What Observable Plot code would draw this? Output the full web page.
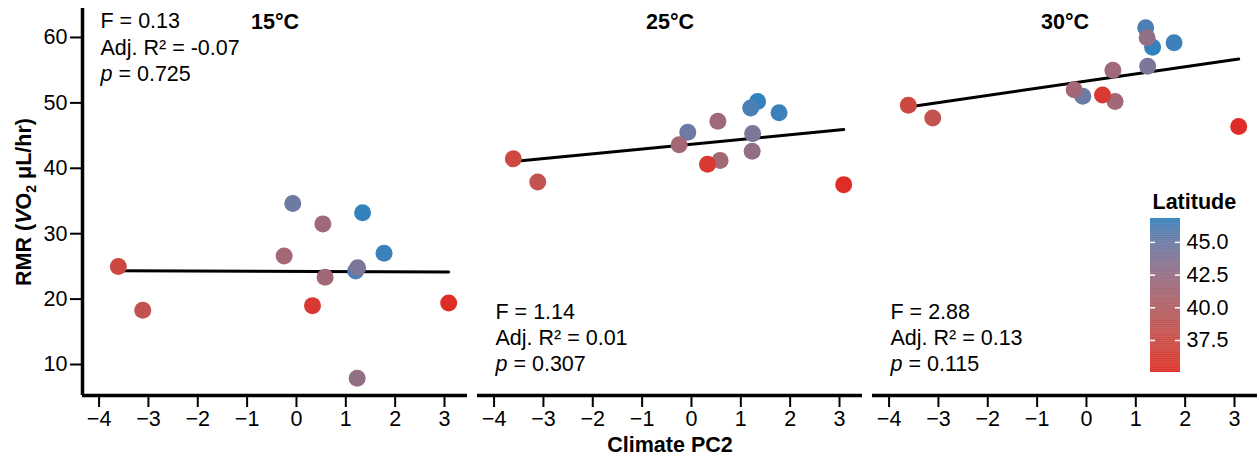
<!DOCTYPE html>
<html>
<head>
<meta charset="utf-8">
<script src="https://cdn.jsdelivr.net/npm/d3@7"></script>
<script src="https://cdn.jsdelivr.net/npm/@observablehq/plot@0.6"></script>
<style>
  html, body { margin: 0; padding: 0; background: #fff; }
  #wrap { position: relative; width: 1257px; height: 457px; }
  #legend { position: absolute; left: 1100px; top: 190px; width: 157px; height: 190px; }
  #legend svg { max-width: none !important; }
</style>
</head>
<body>
<div id="wrap"><div id="main"></div><div id="legend"></div></div>
<script>
// ---- data ----
const panels = ["15°C", "25°C", "30°C"];
const pc2      = [-3.61, -3.115, -0.075, -0.25, 0.535, 0.58, 0.325, 1.34, 1.775, 1.20, 1.24, 1.23, 3.085];
const latitude = [37.2, 38.3, 44.9, 41.3, 41.6, 41.4, 35.8, 46.83, 46.6, 46.2, 44.0, 42.6, 35.05];
const rmr15 = [25.0, 18.3, 34.6, 26.6, 31.5, 23.35, 19.0, 33.2, 27.0, 24.3, 24.8, 7.9, 19.4];
const rmr25 = [41.45, 37.9, 45.5, 43.6, 47.2, 41.2, 40.6, 50.2, 48.5, 49.2, 45.3, 42.6, 37.5];
const rmr30 = [49.65, 47.7, 51.0, 52.0, 55.0, 50.2, 51.2, 58.5, 59.2, 61.5, 55.6, 59.95, 46.4];
const fStat = ["0.13", "1.14", "2.88"];
const adjR2 = ["-0.07", "0.01", "0.13"];
const pValue = ["0.725", "0.307", "0.115"];
const xTicks = [-4, -3, -2, -1, 0, 1, 2, 3];
const yTicks = [10, 20, 30, 40, 50, 60];
const legendTicks = [37.5, 40, 42.5, 45];
const xDomain = [-4.336, 3.466];
const yDomain = [5.26, 64.43];

// ---- tables ----
const rmrByPanel = [rmr15, rmr25, rmr30];
const points = panels.flatMap((t, j) => pc2.map((x, i) => ({temp: t, pc2: x, rmr: rmrByPanel[j][i], lat: latitude[i]})));
const stats = panels.map((t, j) => ({temp: t, F: fStat[j], r2: adjR2[j], p: pValue[j]}));
const latDomain = d3.extent(latitude);
const colorScale = {type: "linear", domain: latDomain, range: ["#de2d26", "#3182bd"], interpolate: "lab"};

const FS = 21.5;
const font = "'Liberation Sans', Arial, Helvetica, sans-serif";

function statMarks(data, anchor, dys) {
  const common = {fx: "temp", frameAnchor: anchor, dx: 18, textAnchor: "start", lineAnchor: "middle", fontSize: FS, fill: "black"};
  return [
    Plot.text(data, {...common, text: d => `F = ${d.F}`, dy: dys[0]}),
    Plot.text(data, {...common, text: d => `Adj. R² = ${d.r2}`, dy: dys[1]}),
    Plot.text(data, {...common, text: d => `p = ${d.p}`, dy: dys[2]})
  ];
}

const chart = Plot.plot({
  width: 1257,
  height: 457,
  marginLeft: 82,
  marginRight: 0,
  marginTop: 8,
  marginBottom: 62,
  style: {fontFamily: font, fontSize: FS + "px", color: "black", background: "white", overflow: "visible"},
  fx: {domain: panels, paddingInner: 10 / 395, paddingOuter: 0, axis: null, label: null},
  x: {domain: xDomain, label: null},
  y: {domain: yDomain, label: null},
  color: colorScale,
  marks: [
    Plot.axisX({ticks: xTicks, tickSize: 12, tickPadding: 3, fontSize: FS, strokeWidth: 2, label: null}),
    Plot.axisY({ticks: yTicks, tickSize: 12, tickPadding: 3, fontSize: FS, strokeWidth: 2, label: null}),
    Plot.ruleY([yDomain[0]], {stroke: "black", strokeWidth: 3.5}),
    Plot.ruleX([{temp: panels[0], x: xDomain[0]}], {x: "x", fx: "temp", stroke: "black", strokeWidth: 3.5}),
    Plot.linearRegressionY(points, {x: "pc2", y: "rmr", fx: "temp", stroke: "black", strokeWidth: 3, ci: 0}),
    Plot.dot(points, {x: "pc2", y: "rmr", fx: "temp", fill: "lat", r: 8.5, stroke: null}),
    Plot.text(panels, {fx: d => d, text: d => d, frameAnchor: "top", dy: 14, lineAnchor: "middle", fontWeight: "bold", fontSize: FS, fill: "black"}),
    ...statMarks(stats.slice(0, 1), "top-left", [13, 39.5, 65.5]),
    ...statMarks(stats.slice(1), "bottom-left", [-83, -57, -31.5]),
    Plot.text([{temp: panels[1]}], {fx: "temp", text: () => "Climate PC2", frameAnchor: "bottom", dy: 50, lineAnchor: "middle", fontWeight: "bold", fontSize: FS, fill: "black"}),
    Plot.text([{temp: panels[0]}], {fx: "temp", text: () => "RMR (VO2 μL/hr)", frameAnchor: "left", dx: -58, rotate: -90, textAnchor: "middle", lineAnchor: "middle", fontWeight: "bold", fontSize: FS, fill: "black"})
  ]
});
document.getElementById("main").appendChild(chart);

// rich text: italic p, italic V and subscript 2
d3.select(chart).selectAll("text").each(function () {
  const s = this.textContent;
  if (/^p = /.test(s)) {
    const t = d3.select(this).text(null);
    t.append("tspan").attr("font-style", "italic").text("p");
    t.append("tspan").text(s.slice(1));
  } else if (s === "RMR (VO2 μL/hr)") {
    const t = d3.select(this).text(null);
    t.append("tspan").text("RMR (");
    t.append("tspan").attr("font-style", "italic").text("V");
    t.append("tspan").text("O");
    t.append("tspan").attr("font-size", "14px").attr("dy", "5px").text("2");
    t.append("tspan").attr("dy", "-5px").text(" μL/hr)");
  }
});

// ---- legend (vertical colour bar) ----
const step = 0.05;
const steps = d3.range(latDomain[0], latDomain[1], step);
const legend = Plot.plot({
  width: 157,
  height: 190,
  marginLeft: 50,
  marginRight: 77,
  marginTop: 28,
  marginBottom: 8,
  style: {fontFamily: font, fontSize: FS + "px", color: "black", background: "transparent", overflow: "visible"},
  x: {domain: [0, 1], axis: null},
  y: {domain: latDomain, axis: null},
  color: colorScale,
  marks: [
    Plot.rect(steps, {x1: 0, x2: 1, y1: d => d, y2: d => Math.min(d + step * 1.5, latDomain[1]), fill: d => d + step / 2}),
    Plot.ruleY(legendTicks, {x1: 0, x2: 0.17, stroke: "white", strokeWidth: 1.5}),
    Plot.ruleY(legendTicks, {x1: 0.83, x2: 1, stroke: "white", strokeWidth: 1.5}),
    Plot.text(legendTicks, {y: d => d, frameAnchor: "right", dx: 6, text: d => d.toFixed(1), textAnchor: "start", lineAnchor: "middle", fontSize: FS, fill: "black"}),
    Plot.text(["Latitude"], {frameAnchor: "top-left", dx: 2, dy: -16, lineAnchor: "middle", textAnchor: "start", fontWeight: "bold", fontSize: FS, fill: "black"})
  ]
});
document.getElementById("legend").appendChild(legend);
</script>
</body>
</html>
